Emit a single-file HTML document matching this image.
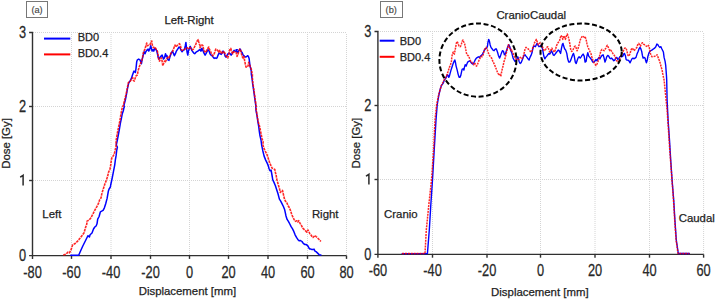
<!DOCTYPE html>
<html><head><meta charset="utf-8"><title>Dose profiles</title>
<style>html,body{margin:0;padding:0;background:#fff;}svg{display:block;}</style>
</head><body>
<svg width="716" height="299" viewBox="0 0 716 299">
<style>
text { font-family: "Liberation Sans", sans-serif; fill: #222; stroke: #222; stroke-width: 0.25px; }
.tk { font-size: 16px; fill:#2a2a2a; }
.lb { font-size: 11.4px; }
.lg { font-size: 11px; }
</style>
<rect width="716" height="299" fill="#fff"/>
<line x1="33" y1="32.5" x2="346.5" y2="32.5" stroke="#d4d4d4" stroke-width="1" stroke-dasharray="1 1"/>
<line x1="33" y1="106.5" x2="346.5" y2="106.5" stroke="#d4d4d4" stroke-width="1" stroke-dasharray="1 1"/>
<line x1="33" y1="180.5" x2="346.5" y2="180.5" stroke="#d4d4d4" stroke-width="1" stroke-dasharray="1 1"/>
<line x1="71.5" y1="34" x2="71.5" y2="255.6" stroke="#d4d4d4" stroke-width="1" stroke-dasharray="1 1"/>
<line x1="111" y1="34" x2="111" y2="255.6" stroke="#d4d4d4" stroke-width="1" stroke-dasharray="1 1"/>
<line x1="150.5" y1="34" x2="150.5" y2="255.6" stroke="#d4d4d4" stroke-width="1" stroke-dasharray="1 1"/>
<line x1="189.5" y1="34" x2="189.5" y2="255.6" stroke="#d4d4d4" stroke-width="1" stroke-dasharray="1 1"/>
<line x1="228.5" y1="34" x2="228.5" y2="255.6" stroke="#d4d4d4" stroke-width="1" stroke-dasharray="1 1"/>
<line x1="268" y1="34" x2="268" y2="255.6" stroke="#d4d4d4" stroke-width="1" stroke-dasharray="1 1"/>
<line x1="307.5" y1="34" x2="307.5" y2="255.6" stroke="#d4d4d4" stroke-width="1" stroke-dasharray="1 1"/>
<line x1="346.5" y1="34" x2="346.5" y2="255.6" stroke="#d4d4d4" stroke-width="1" stroke-dasharray="1 1"/>
<path d="M29.1,32.5H32.5V258.9" fill="none" stroke="#303030" stroke-width="1.4"/>
<line x1="29.1" y1="255.6" x2="346.5" y2="255.6" stroke="#303030" stroke-width="1.4"/>
<line x1="29.1" y1="106.5" x2="32.5" y2="106.5" stroke="#303030" stroke-width="1.4"/>
<line x1="29.1" y1="180.5" x2="32.5" y2="180.5" stroke="#303030" stroke-width="1.4"/>
<line x1="71.5" y1="255.6" x2="71.5" y2="258.9" stroke="#303030" stroke-width="1.4"/>
<line x1="111" y1="255.6" x2="111" y2="258.9" stroke="#303030" stroke-width="1.4"/>
<line x1="150.5" y1="255.6" x2="150.5" y2="258.9" stroke="#303030" stroke-width="1.4"/>
<line x1="189.5" y1="255.6" x2="189.5" y2="258.9" stroke="#303030" stroke-width="1.4"/>
<line x1="228.5" y1="255.6" x2="228.5" y2="258.9" stroke="#303030" stroke-width="1.4"/>
<line x1="268" y1="255.6" x2="268" y2="258.9" stroke="#303030" stroke-width="1.4"/>
<line x1="307.5" y1="255.6" x2="307.5" y2="258.9" stroke="#303030" stroke-width="1.4"/>
<line x1="346.5" y1="255.6" x2="346.5" y2="258.9" stroke="#303030" stroke-width="1.4"/>
<text class="tk" x="0" y="0" text-anchor="middle" transform="translate(32.5,277.6) scale(0.8,1)">-80</text>
<text class="tk" x="0" y="0" text-anchor="middle" transform="translate(71.5,277.6) scale(0.8,1)">-60</text>
<text class="tk" x="0" y="0" text-anchor="middle" transform="translate(111.0,277.6) scale(0.8,1)">-40</text>
<text class="tk" x="0" y="0" text-anchor="middle" transform="translate(150.5,277.6) scale(0.8,1)">-20</text>
<text class="tk" x="0" y="0" text-anchor="middle" transform="translate(189.5,277.6) scale(0.8,1)">0</text>
<text class="tk" x="0" y="0" text-anchor="middle" transform="translate(228.5,277.6) scale(0.8,1)">20</text>
<text class="tk" x="0" y="0" text-anchor="middle" transform="translate(268.0,277.6) scale(0.8,1)">40</text>
<text class="tk" x="0" y="0" text-anchor="middle" transform="translate(307.5,277.6) scale(0.8,1)">60</text>
<text class="tk" x="0" y="0" text-anchor="middle" transform="translate(346.5,277.6) scale(0.8,1)">80</text>
<text class="tk" x="0" y="0" text-anchor="end" transform="translate(26.0,261.4) scale(0.8,1)">0</text>
<path d="M20.1,177.1 Q21.9,176.4 23.1,175.4 V185.4" fill="none" stroke="#2a2a2a" stroke-width="1.5"/>
<text class="tk" x="0" y="0" text-anchor="end" transform="translate(26.0,112.3) scale(0.8,1)">2</text>
<text class="tk" x="0" y="0" text-anchor="end" transform="translate(26.0,38.3) scale(0.8,1)">3</text>
<line x1="378" y1="31.5" x2="703.6" y2="31.5" stroke="#d4d4d4" stroke-width="1" stroke-dasharray="1 1"/>
<line x1="378" y1="105.5" x2="703.6" y2="105.5" stroke="#d4d4d4" stroke-width="1" stroke-dasharray="1 1"/>
<line x1="378" y1="179.5" x2="703.6" y2="179.5" stroke="#d4d4d4" stroke-width="1" stroke-dasharray="1 1"/>
<line x1="432.5" y1="33" x2="432.5" y2="254.4" stroke="#d4d4d4" stroke-width="1" stroke-dasharray="1 1"/>
<line x1="487" y1="33" x2="487" y2="254.4" stroke="#d4d4d4" stroke-width="1" stroke-dasharray="1 1"/>
<line x1="540.5" y1="33" x2="540.5" y2="254.4" stroke="#d4d4d4" stroke-width="1" stroke-dasharray="1 1"/>
<line x1="595" y1="33" x2="595" y2="254.4" stroke="#d4d4d4" stroke-width="1" stroke-dasharray="1 1"/>
<line x1="649.5" y1="33" x2="649.5" y2="254.4" stroke="#d4d4d4" stroke-width="1" stroke-dasharray="1 1"/>
<line x1="703.6" y1="33" x2="703.6" y2="254.4" stroke="#d4d4d4" stroke-width="1" stroke-dasharray="1 1"/>
<path d="M374.5,31.5H377.9V257.7" fill="none" stroke="#303030" stroke-width="1.4"/>
<line x1="374.5" y1="254.4" x2="703.6" y2="254.4" stroke="#303030" stroke-width="1.4"/>
<line x1="374.5" y1="105.5" x2="377.9" y2="105.5" stroke="#303030" stroke-width="1.4"/>
<line x1="374.5" y1="179.5" x2="377.9" y2="179.5" stroke="#303030" stroke-width="1.4"/>
<line x1="432.5" y1="254.4" x2="432.5" y2="257.7" stroke="#303030" stroke-width="1.4"/>
<line x1="487" y1="254.4" x2="487" y2="257.7" stroke="#303030" stroke-width="1.4"/>
<line x1="540.5" y1="254.4" x2="540.5" y2="257.7" stroke="#303030" stroke-width="1.4"/>
<line x1="595" y1="254.4" x2="595" y2="257.7" stroke="#303030" stroke-width="1.4"/>
<line x1="649.5" y1="254.4" x2="649.5" y2="257.7" stroke="#303030" stroke-width="1.4"/>
<line x1="703.6" y1="254.4" x2="703.6" y2="257.7" stroke="#303030" stroke-width="1.4"/>
<text class="tk" x="0" y="0" text-anchor="middle" transform="translate(377.9,276.4) scale(0.8,1)">-60</text>
<text class="tk" x="0" y="0" text-anchor="middle" transform="translate(432.5,276.4) scale(0.8,1)">-40</text>
<text class="tk" x="0" y="0" text-anchor="middle" transform="translate(487.0,276.4) scale(0.8,1)">-20</text>
<text class="tk" x="0" y="0" text-anchor="middle" transform="translate(540.5,276.4) scale(0.8,1)">0</text>
<text class="tk" x="0" y="0" text-anchor="middle" transform="translate(595.0,276.4) scale(0.8,1)">20</text>
<text class="tk" x="0" y="0" text-anchor="middle" transform="translate(649.5,276.4) scale(0.8,1)">40</text>
<text class="tk" x="0" y="0" text-anchor="middle" transform="translate(703.6,276.4) scale(0.8,1)">60</text>
<text class="tk" x="0" y="0" text-anchor="end" transform="translate(371.3,260.2) scale(0.8,1)">0</text>
<path d="M365.9,176.1 Q367.7,175.4 368.9,174.4 V184.4" fill="none" stroke="#2a2a2a" stroke-width="1.5"/>
<text class="tk" x="0" y="0" text-anchor="end" transform="translate(371.3,111.3) scale(0.8,1)">2</text>
<text class="tk" x="0" y="0" text-anchor="end" transform="translate(371.3,37.3) scale(0.8,1)">3</text>
<!-- curves -->
<polyline points="70.7,255.3 78.7,255.3 80.1,252.0 82.8,246.0 84.8,242.0 86.8,238.0 88.0,235.7 89.4,237.0 90.1,234.7 92.0,233.0 93.5,229.0 94.8,227.0 96.1,226.0 97.0,223.8 97.7,219.1 99.1,216.5 100.4,211.8 101.7,211.1 103.1,210.4 104.4,207.8 105.7,203.7 107.1,198.4 107.8,194.4 108.4,191.0 109.1,189.0 110.4,187.0 110.7,185.0 112.1,178.5 113.4,171.8 114.7,165.1 115.4,159.7 116.1,155.7 116.7,150.4 117.4,147.0 116.3,145.0 117.4,139.8 118.4,134.5 119.4,129.1 120.3,123.7 121.4,118.4 122.3,113.7 123.4,110.4 123.8,108.3 124.3,107.0 124.0,105.0 125.4,99.8 126.7,93.1 127.6,87.8 128.7,83.1 130.0,81.1 131.4,78.4 132.5,75.0 133.4,72.4 134.0,71.1 135.4,72.5 136.0,68.5 136.7,61.8 137.4,59.8 138.7,59.1 140.0,59.8 140.7,61.8 141.4,63.8 142.0,60.4 143.4,54.4 144.1,51.7 145.0,53.7 145.8,51.7 146.7,50.4 148.1,49.1 148.7,51.1 150.1,48.4 150.7,45.7 151.4,48.4 152.1,51.1 153.0,49.7 153.8,51.1 154.8,48.4 156.1,49.7 156.8,51.1 157.4,53.7 158.1,57.1 158.8,59.1 159.7,57.8 160.8,56.4 162.1,55.1 162.8,57.1 163.5,59.1 164.5,57.8 165.5,53.7 166.4,56.4 166.1,55.1 167.0,55.7 167.9,59.8 169.0,60.4 170.1,56.4 171.0,53.7 172.4,51.1 173.3,53.1 174.4,55.7 175.4,53.7 176.4,51.1 177.7,49.1 179.1,47.0 180.0,47.7 181.1,50.4 182.1,51.7 183.1,50.4 184.4,49.7 185.3,45.7 185.9,42.4 186.4,47.0 187.1,52.4 187.8,55.1 188.4,51.1 189.4,48.4 190.2,46.4 191.1,48.4 191.8,50.4 192.8,51.7 193.8,53.1 194.7,53.7 195.8,52.4 196.9,51.7 197.8,51.1 198.7,50.4 199.8,49.7 200.9,51.1 201.8,49.7 201.1,49.1 202.0,48.4 202.9,50.4 204.0,53.1 205.1,55.1 206.0,53.7 207.0,51.7 208.0,49.7 209.1,51.1 210.0,53.7 211.0,55.1 212.0,55.7 213.1,57.1 214.1,58.4 215.0,57.8 216.1,58.4 217.1,57.8 218.1,55.1 219.0,53.1 220.1,53.7 221.2,54.4 222.1,53.1 223.0,51.1 224.1,52.4 225.2,56.4 226.1,57.1 227.2,55.1 228.1,53.7 229.2,53.1 230.1,53.7 231.1,55.1 232.1,53.7 233.2,51.7 234.1,50.4 235.1,51.1 236.1,51.7 237.2,49.7 236.1,49.7 237.0,51.7 237.9,52.4 239.0,50.4 240.1,49.1 241.0,51.1 242.0,52.4 242.8,54.4 243.7,55.7 244.6,56.4 245.7,57.1 246.8,56.4 247.7,55.7 248.4,56.4 249.1,58.4 249.5,61.8 250.0,65.8 250.8,69.1 251.3,71.1 251.3,74.0 252.0,78.0 252.6,83.4 253.4,88.7 254.2,94.1 254.9,99.5 255.7,104.8 256.0,110.4 257.0,115.7 257.8,121.1 258.7,126.4 259.4,131.8 260.0,135.8 261.0,140.0 261.7,145.4 262.8,150.7 264.1,156.1 265.7,160.1 267.3,163.4 268.4,166.1 269.1,168.8 270.0,170.8 271.1,170.1 271.7,173.5 272.4,177.5 272.7,179.7 274.0,182.4 275.4,185.7 276.7,189.7 278.0,193.7 279.4,199.1 280.7,201.1 282.1,203.8 283.4,206.5 284.7,209.8 285.4,213.2 286.0,216.0 287.1,219.4 288.4,221.4 289.8,224.0 291.1,226.7 292.4,228.7 293.8,231.4 295.1,234.8 296.5,237.4 297.8,239.4 299.1,240.8 300.5,240.5 302.0,241.5 303.0,243.0 304.0,244.0 305.0,244.5 306.0,244.5 307.0,245.1 308.0,246.1 309.0,248.1 310.0,249.1 311.0,249.1 312.0,249.6 313.0,249.6 314.0,249.1 315.0,251.1 316.0,251.6 317.1,252.6 318.1,253.6 319.1,254.6 320.1,255.1 320.9,254.9" fill="none" stroke="#0000ff" stroke-width="1.5" stroke-linejoin="round" stroke-linecap="round" />
<polyline points="63.3,255.1 66.0,254.1 68.0,252.1 69.4,252.8 70.7,250.8 72.7,244.8 74.7,243.8 77.4,241.4 80.1,238.1 82.1,235.4 84.1,232.7 85.4,228.0 86.8,224.0 87.0,221.1 89.0,220.1 91.0,217.8 93.0,213.8 95.0,209.8 97.0,206.4 98.4,203.7 99.7,199.7 101.1,197.7 101.7,194.4 102.4,191.7 103.7,187.7 104.7,184.5 106.0,181.1 107.4,177.1 108.7,171.8 110.0,169.1 110.7,165.1 111.4,159.7 112.1,157.0 113.4,155.7 114.7,152.4 115.4,149.0 116.1,146.3 116.0,141.1 116.7,137.1 117.6,131.8 118.7,126.4 119.8,121.1 120.7,115.7 121.4,111.7 122.1,108.3 123.4,105.0 124.7,99.8 126.0,94.5 127.4,87.8 128.4,82.4 130.0,81.7 131.4,79.1 132.7,77.7 133.4,80.4 134.3,81.1 135.1,78.4 136.1,75.7 137.4,75.0 138.0,71.1 139.4,66.5 140.7,63.1 142.0,59.8 142.7,56.4 143.4,52.4 144.7,49.7 146.1,45.0 146.7,43.0 147.4,45.7 148.7,45.0 150.1,44.4 151.2,41.7 151.7,41.0 152.5,45.7 153.4,47.7 154.8,47.0 156.1,49.1 157.4,51.1 158.1,55.1 158.8,59.8 159.5,61.1 160.5,59.1 161.5,57.8 162.1,61.1 162.8,65.8 163.5,63.8 164.5,61.1 165.5,61.8 165.0,62.4 166.1,60.4 167.0,58.4 167.9,57.1 169.0,57.8 170.1,55.1 171.0,53.1 172.4,51.7 173.3,49.7 174.4,46.4 175.0,45.0 175.7,47.0 177.0,45.7 178.4,44.4 179.5,43.7 180.4,45.7 181.3,49.7 182.4,50.4 183.7,49.7 185.1,49.1 186.2,48.4 187.1,47.7 188.0,48.4 189.1,49.1 190.2,47.7 191.1,48.4 192.4,49.7 193.4,49.1 194.5,47.0 195.5,45.0 196.5,42.4 197.1,41.0 198.2,39.7 198.7,41.7 199.5,44.4 200.5,46.4 200.0,47.7 201.1,45.7 202.0,45.0 202.9,45.7 203.7,49.7 204.7,51.7 205.6,52.4 206.7,50.4 207.8,48.4 208.7,47.0 209.6,49.7 210.7,51.7 211.8,54.4 212.7,55.7 213.7,55.1 214.7,52.4 215.8,49.1 216.7,49.7 217.7,50.4 218.7,52.4 219.8,50.4 220.7,51.7 221.7,53.7 222.8,52.4 223.8,51.1 224.8,53.1 225.7,55.1 226.8,57.1 227.8,57.8 228.8,54.4 229.7,49.7 230.8,48.4 231.9,52.4 232.8,53.7 233.7,51.7 235.0,52.4 236.1,52.4 237.0,56.4 237.9,55.1 238.7,51.7 239.7,49.1 240.6,49.7 241.4,53.7 242.4,57.1 243.3,58.4 244.1,56.4 244.6,60.4 245.4,64.5 246.0,67.1 247.0,67.1 248.1,65.8 248.7,62.4 249.5,64.5 250.4,67.1 251.1,68.5 251.7,71.8 252.4,74.5 252.4,78.0 252.9,83.4 253.7,88.7 254.5,94.1 255.2,99.5 256.0,104.8 256.3,110.4 257.2,115.7 258.0,121.1 259.6,126.4 260.7,131.8 262.0,138.5 263.1,141.8 263.0,145.4 264.4,149.4 266.0,152.7 267.3,155.4 268.4,158.7 269.5,162.1 270.8,165.4 272.1,168.1 273.5,168.8 274.8,169.5 275.3,172.1 276.2,175.5 276.7,179.0 278.0,183.7 279.4,188.4 280.3,192.4 281.4,191.1 282.5,190.4 283.4,194.4 284.3,198.4 285.4,201.1 286.7,202.4 288.1,205.8 289.4,207.8 290.5,210.5 291.4,213.2 291.6,214.0 292.7,216.7 294.0,219.4 295.4,221.4 296.7,220.7 297.8,222.0 298.7,220.7 300.1,223.4 301.4,225.4 302.7,228.1 304.1,229.4 305.4,230.7 306.8,232.1 308.0,230.0 309.0,232.0 310.0,234.0 311.0,235.0 312.0,236.5 313.0,237.5 314.0,236.5 315.0,235.5 316.0,236.5 317.1,237.5 318.1,238.5 319.1,239.5 320.1,240.5 320.8,241.5" fill="none" stroke="#ff0000" stroke-width="1.6" stroke-linejoin="round" stroke-dasharray="2.6 0.8" stroke-opacity="0.85"/>
<polyline points="402.1,253.6 427.4,253.6 428.0,246.4 429.3,230.0 430.8,205.0 432.5,180.0 434.2,150.2 436.0,120.1 437.2,105.0 438.7,96.0 440.0,90.0 441.4,85.5 442.5,84.1 443.4,82.8 444.3,80.1 445.4,78.8 446.5,76.8 447.4,74.8 448.1,75.4 448.7,77.4 449.4,76.1 450.1,73.4 451.0,70.1 452.1,66.7 453.2,63.4 454.1,61.4 454.8,60.0 455.4,62.0 456.1,66.1 457.2,70.1 458.1,74.1 459.1,77.4 459.9,77.4 460.8,75.4 461.5,72.1 462.1,69.4 463.1,68.7 463.9,70.1 464.4,67.4 465.2,64.7 466.2,66.1 467.1,63.4 468.1,61.5 468.7,61.5 469.7,60.8 470.8,62.1 471.8,63.5 472.8,64.1 473.7,62.8 474.5,61.5 475.4,59.5 476.4,58.1 477.5,57.4 478.5,56.8 479.5,57.4 480.4,56.1 481.5,55.4 482.5,54.1 483.5,52.1 484.4,50.1 485.5,48.7 486.6,48.1 487.5,46.1 487.9,42.7 488.7,39.4 489.3,40.7 490.1,44.7 491.0,47.4 492.0,48.7 493.0,50.1 494.1,50.7 495.0,49.4 496.0,48.7 496.8,50.1 497.7,52.8 498.4,55.4 499.5,58.1 500.4,56.1 501.3,53.4 502.4,50.7 503.5,51.4 504.4,54.8 505.3,54.1 506.2,51.4 507.1,48.7 508.0,46.1 508.8,44.7 509.8,46.7 510.4,49.4 511.1,51.4 511.8,52.8 512.4,55.4 513.1,58.1 514.2,60.1 515.1,61.5 516.1,60.8 516.9,58.8 517.8,56.8 518.5,58.8 519.1,61.5 520.1,63.5 521.1,62.8 522.2,60.1 523.2,57.4 524.0,55.4 525.1,54.8 526.0,56.1 527.0,57.4 528.0,58.8 529.1,60.1 530.0,57.4 531.0,55.4 532.0,52.8 532.7,49.4 533.4,46.7 534.5,46.1 535.4,46.7 536.3,44.7 537.1,43.4 538.1,45.4 539.0,46.7 540.1,46.1 541.2,45.4 542.1,47.4 543.0,51.4 543.8,56.1 544.8,58.8 545.7,57.4 546.8,56.1 547.8,54.8 548.8,53.4 549.7,54.1 550.5,52.8 551.5,50.7 552.4,52.8 553.2,54.8 554.1,55.4 555.1,54.1 556.1,52.8 557.2,51.4 558.2,50.1 559.1,50.7 560.6,53.4 561.4,48.7 562.4,44.1 563.0,43.4 563.7,46.1 564.6,48.7 565.7,50.1 566.8,53.4 567.7,58.8 568.7,62.1 569.7,62.1 570.8,60.1 571.7,57.4 572.7,54.8 573.5,53.4 574.4,56.8 575.3,62.1 576.2,63.5 577.1,60.8 578.0,58.1 579.1,56.8 580.2,58.1 581.1,56.8 582.0,55.4 583.1,54.1 584.2,56.1 585.1,62.1 586.1,61.5 586.9,56.1 587.8,52.8 588.7,56.1 589.8,57.4 590.9,58.8 591.8,60.1 592.8,62.1 594.0,62.1 595.1,60.8 596.0,59.5 597.0,60.8 598.0,58.8 599.1,57.4 600.0,58.8 601.0,56.8 602.0,55.4 603.1,54.8 604.1,58.1 605.0,62.1 605.8,60.1 606.7,56.8 607.7,55.4 608.7,56.1 609.8,58.1 610.7,58.8 611.7,58.1 612.8,59.5 613.8,60.8 614.8,60.1 615.7,58.1 616.8,57.4 617.8,59.5 618.8,58.8 619.7,56.8 620.8,56.1 621.9,56.8 622.8,56.1 623.7,54.1 624.5,53.4 625.5,56.1 626.1,59.5 627.0,60.1 627.9,60.1 629.0,60.8 630.1,62.8 631.0,60.8 632.0,58.8 633.0,58.1 634.1,58.8 635.0,58.1 636.0,57.4 637.0,54.1 638.1,51.4 639.1,48.7 640.0,47.4 640.8,48.7 641.7,51.4 642.4,55.4 643.1,58.1 644.0,57.4 645.1,58.1 645.7,60.8 646.4,62.8 647.1,60.8 647.8,56.8 648.8,53.4 649.8,51.4 650.7,50.7 651.8,50.1 652.8,49.4 653.8,48.7 654.7,48.1 655.8,46.7 656.9,44.1 657.8,44.7 658.7,46.1 659.8,47.4 660.9,46.7 661.8,48.7 663.4,52.0 664.1,57.4 665.1,61.4 665.7,65.4 666.1,70.8 666.5,76.1 666.7,80.0 667.1,100.1 668.1,120.2 669.5,140.0 670.7,160.0 672.1,180.2 673.7,200.0 674.9,220.0 676.3,240.0 678.3,253.5 689.4,253.5" fill="none" stroke="#0000ff" stroke-width="1.4" stroke-linejoin="round" stroke-linecap="round" />
<polyline points="402.1,253.6 425.0,253.6 426.3,230.0 428.8,205.0 431.5,180.0 433.6,150.2 435.0,120.0 436.6,105.0 438.7,94.5 440.0,90.0 441.4,85.5 442.7,82.8 444.1,80.1 445.4,78.1 446.7,75.4 448.1,71.4 449.4,67.4 450.5,64.7 451.4,61.4 451.8,57.4 452.4,54.0 453.2,52.0 453.6,52.8 454.4,54.1 455.4,48.7 456.3,43.4 457.1,41.4 458.0,43.4 459.0,46.1 460.0,46.7 461.1,45.4 462.1,41.4 463.0,40.0 463.8,42.0 464.7,44.1 465.4,47.4 466.1,51.4 466.7,54.1 467.8,55.4 468.7,56.1 469.7,58.8 470.8,61.5 471.8,62.1 472.8,64.1 473.7,64.8 474.5,62.8 475.4,64.1 476.4,66.1 477.2,65.5 478.1,62.8 479.1,60.1 480.1,58.1 481.2,56.1 482.1,56.8 483.1,54.8 484.1,50.7 485.2,48.1 486.2,47.4 487.0,48.7 487.9,51.4 489.0,54.8 491.7,58.3 493.0,61.7 494.4,64.4 495.7,67.7 496.8,70.4 497.7,73.1 498.7,74.4 499.7,73.7 500.8,76.4 501.3,73.7 502.1,69.7 503.1,65.7 504.0,61.7 505.1,58.3 506.7,51.4 507.8,47.4 508.4,44.7 509.1,46.1 509.8,48.1 510.7,50.1 511.5,49.4 512.4,52.1 513.4,54.1 514.5,56.8 515.5,58.8 516.5,59.5 517.4,58.8 518.5,59.5 519.5,58.1 520.5,57.4 521.4,58.8 522.5,58.1 523.6,55.4 524.5,51.4 525.1,48.7 526.0,47.4 527.0,48.1 527.8,48.7 528.7,49.4 529.6,50.1 530.7,52.1 531.8,51.4 532.7,48.1 533.7,45.4 534.5,42.7 535.4,41.4 536.3,39.4 537.1,41.4 537.7,44.1 538.5,44.7 539.4,43.4 540.1,42.7 541.2,44.1 542.1,46.1 543.0,48.1 543.8,50.1 544.8,50.7 545.7,49.4 546.8,47.4 547.8,46.7 548.8,49.4 549.7,52.1 550.8,50.1 551.9,48.1 552.8,50.1 553.7,51.4 554.5,52.1 555.5,49.4 556.4,46.1 557.5,43.4 558.6,42.0 559.5,40.7 560.1,38.7 561.0,35.4 562.0,36.7 562.8,39.4 563.7,36.0 564.6,36.7 565.4,39.4 566.4,36.0 567.3,34.0 568.1,36.0 569.1,40.0 570.0,44.7 570.8,50.1 571.7,51.4 572.7,50.7 573.5,48.7 574.4,46.7 575.3,46.1 576.2,48.1 577.1,50.7 578.0,48.7 579.1,44.7 580.2,40.0 581.1,38.0 582.0,36.7 583.1,36.0 584.2,37.4 585.1,36.7 586.1,39.4 586.9,43.4 587.8,46.7 588.7,48.7 589.8,51.4 590.9,53.4 591.8,56.8 592.8,60.1 594.0,62.8 595.1,64.1 596.0,65.5 597.0,64.1 598.0,61.5 599.1,58.1 600.0,54.1 601.0,50.7 602.0,49.4 603.1,50.1 604.1,50.7 605.0,49.4 605.8,48.1 606.7,46.1 607.4,45.4 608.1,46.7 608.7,48.7 609.8,50.7 610.7,50.1 611.7,51.4 612.8,53.4 613.8,54.8 614.8,56.1 615.7,58.1 616.8,60.8 617.8,62.1 618.8,61.5 619.7,58.8 620.8,56.1 621.9,54.1 622.8,52.1 623.7,50.1 624.8,48.1 626.1,48.1 627.0,51.4 627.9,55.4 629.0,56.1 630.1,53.4 631.0,50.1 632.0,48.1 632.8,48.7 633.7,50.7 634.6,50.1 635.7,48.7 636.8,47.4 637.7,44.7 638.7,43.4 639.5,44.7 640.4,46.1 641.3,44.1 642.4,42.7 643.5,44.1 644.4,44.7 645.3,45.4 646.4,46.1 647.5,46.7 648.4,45.4 649.4,48.1 650.2,52.8 651.1,55.4 652.0,56.7 653.4,56.7 654.7,56.3 656.0,55.8 657.1,54.7 657.6,56.1 658.4,58.1 659.4,60.7 660.3,63.4 661.1,66.8 662.1,70.1 662.7,73.5 663.4,76.8 664.1,80.0 665.1,90.0 666.1,100.1 667.1,110.0 668.1,124.0 669.1,140.0 670.5,160.0 672.0,180.2 673.5,200.0 674.7,220.0 676.1,240.0 678.0,253.5 689.4,253.5" fill="none" stroke="#ff0000" stroke-width="1.5" stroke-linejoin="round" stroke-dasharray="2 0.9" stroke-opacity="0.85"/>
<!-- legends -->
<line x1="44" y1="38.6" x2="70.3" y2="38.6" stroke="#0000ff" stroke-width="2"/>
<line x1="44" y1="54.4" x2="70.3" y2="54.4" stroke="#ff0000" stroke-width="2"/>
<text class="lg" x="77.7" y="41">BD0</text>
<text class="lg" x="77.7" y="57.3">BD0.4</text>
<line x1="379.7" y1="40.7" x2="394.5" y2="40.7" stroke="#0000ff" stroke-width="2"/>
<line x1="379.7" y1="56.8" x2="394.5" y2="56.8" stroke="#ff0000" stroke-width="2"/>
<text class="lg" x="399.7" y="44.7">BD0</text>
<text class="lg" x="399.7" y="60.8">BD0.4</text>
<!-- titles & labels -->
<text class="lb" x="164.4" y="23.6">Left-Right</text>
<text class="lb" x="496.4" y="18.8">CranioCaudal</text>
<text class="lb" x="138.7" y="295.1">Displacement [mm]</text>
<text class="lb" x="491.1" y="295.5">Displacement [mm]</text>
<text class="lb" transform="translate(10,168.8) rotate(-90)">Dose [Gy]</text>
<text class="lb" transform="translate(360.2,168.5) rotate(-90)">Dose [Gy]</text>
<text class="lb" x="42.3" y="217.5">Left</text>
<text class="lb" x="311.9" y="217.9">Right</text>
<text class="lb" x="384.1" y="217.8">Cranio</text>
<text class="lb" x="678.7" y="222.2">Caudal</text>
<!-- ellipses -->
<ellipse cx="477.9" cy="60.1" rx="38.5" ry="36.6" fill="none" stroke="#000" stroke-width="2" stroke-dasharray="5 2.6"/>
<ellipse cx="581.1" cy="52" rx="40.6" ry="28.5" fill="none" stroke="#000" stroke-width="2" stroke-dasharray="5 2.6"/>
<!-- panel tags -->
<rect x="26.5" y="1.5" width="21" height="16" fill="#fff" stroke="#777" stroke-width="1"/>
<text x="31.4" y="13.1" style="font-size:9.2px;fill:#444;stroke:#444;stroke-width:0.15px">(a)</text>
<rect x="380.5" y="1.5" width="22" height="16" fill="#fff" stroke="#777" stroke-width="1"/>
<text x="385.6" y="13.1" style="font-size:9.2px;fill:#444;stroke:#444;stroke-width:0.15px">(b)</text>
</svg>
</body></html>
